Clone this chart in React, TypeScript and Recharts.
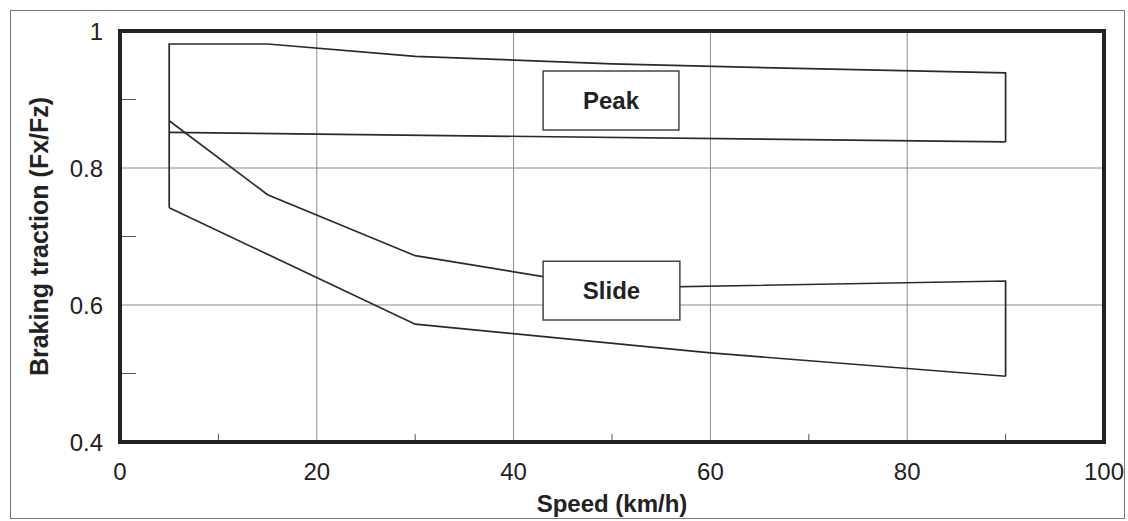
import { LineChart, Line, XAxis, YAxis, CartesianGrid, ReferenceArea, ReferenceLine } from 'recharts';

// envelope outlines (speed km/h, traction Fx/Fz)
const peakUpperSpeed = [5, 5, 15, 30, 50, 70, 90, 90];
const peakUpperTraction = [0.742, 0.981, 0.981, 0.963, 0.952, 0.945, 0.939, 0.838];
const peakLowerSpeed = [5, 90];
const peakLowerTraction = [0.852, 0.838];
const slideUpperSpeed = [5, 15, 30, 50, 90, 90];
const slideUpperTraction = [0.869, 0.761, 0.672, 0.625, 0.635, 0.496];
const slideLowerSpeed = [5, 30, 60, 90];
const slideLowerTraction = [0.742, 0.572, 0.53, 0.496];

const speedTicks = [0, 20, 40, 60, 80, 100];
const speedMinorTicks = [10, 30, 50, 70, 90];
const tractionTicks = [0.4, 0.6, 0.8, 1];
const tractionMinorTicks = [0.5, 0.7, 0.9];

// label boxes: [speedFrom, speedTo, tractionFrom, tractionTo]
const peakBox = [43, 56.8, 0.8555, 0.9416];
const slideBox = [43, 56.9, 0.578, 0.664];

const toPoints = (xs: number[], ys: number[]) => xs.map((speed, i) => ({ speed, traction: ys[i] }));

const series = [
  toPoints(peakUpperSpeed, peakUpperTraction),
  toPoints(peakLowerSpeed, peakLowerTraction),
  toPoints(slideUpperSpeed, slideUpperTraction),
  toPoints(slideLowerSpeed, slideLowerTraction),
];

const FONT = '"Liberation Sans", Arial, sans-serif';
const INK = '#222';

// short inward tick standing on the bottom axis
const MinorXTick = (p: any) => {
  const bottom = Math.max(p.y1, p.y2);
  return <line x1={p.x1} x2={p.x1} y1={bottom} y2={bottom - 8} stroke="#555" strokeWidth={1} />;
};

export default function App() {
  return (
    <div style={{ position: 'absolute', left: 0, top: 0, width: 1128, height: 521, background: '#fff', fontFamily: FONT }}>
      <div style={{ position: 'absolute', left: 10, top: 10, width: 1113, height: 507, border: '1px solid #777' }} />
      <LineChart width={1128} height={521} margin={{ top: 31, right: 24, bottom: 9, left: 20 }}>
        <CartesianGrid stroke="#8a8a8a" strokeWidth={1} />
        <XAxis
          dataKey="speed"
          type="number"
          domain={[0, 100]}
          ticks={speedTicks}
          allowDataOverflow
          height={70}
          axisLine={false}
          tickLine={false}
          tickSize={0}
          tickMargin={21}
          tick={{ fill: INK, fontSize: 24, fontFamily: FONT }}
          label={{ value: 'Speed (km/h)', position: 'insideBottom', offset: 0, fill: INK, fontSize: 24, fontWeight: 'bold', fontFamily: FONT }}
        />
        <YAxis
          type="number"
          domain={[0.4, 1]}
          ticks={tractionTicks}
          allowDataOverflow
          width={100}
          axisLine={false}
          tickLine={false}
          tickSize={0}
          tickMargin={17}
          tick={{ fill: INK, fontSize: 24, fontFamily: FONT }}
          label={{
            value: 'Braking traction (Fx/Fz)',
            angle: -90,
            position: 'insideLeft',
            offset: 19,
            fill: INK,
            fontSize: 25,
            fontWeight: 'bold',
            fontFamily: FONT,
            style: { textAnchor: 'middle' },
          }}
        />
        <YAxis
          yAxisId="minor"
          type="number"
          domain={[0.4, 1]}
          ticks={tractionMinorTicks}
          allowDataOverflow
          mirror
          width={1}
          axisLine={false}
          tickSize={16}
          tickLine={{ stroke: '#555' }}
          tickFormatter={() => ''}
        />
        {speedMinorTicks.map((s) => (
          <ReferenceLine key={s} x={s} shape={MinorXTick} />
        ))}
        {series.map((pts, i) => (
          <Line
            key={i}
            data={pts}
            dataKey="traction"
            type="linear"
            stroke="#2a2a2a"
            strokeWidth={1.7}
            dot={false}
            activeDot={false}
            isAnimationActive={false}
          />
        ))}
        {[
          { box: peakBox, text: 'Peak' },
          { box: slideBox, text: 'Slide' },
        ].map(({ box, text }) => (
          <ReferenceArea
            key={text}
            x1={box[0]}
            x2={box[1]}
            y1={box[2]}
            y2={box[3]}
            zIndex={1000}
            fill="#fff"
            fillOpacity={1}
            stroke="#444"
            strokeWidth={1.5}
            label={{ value: text, position: 'center', fill: INK, fontSize: 24, fontWeight: 'bold', fontFamily: FONT }}
          />
        ))}
        <ReferenceArea x1={0} x2={100} y1={0.4} y2={1} zIndex={1100} fill="none" stroke={INK} strokeWidth={4} />
      </LineChart>
    </div>
  );
}
